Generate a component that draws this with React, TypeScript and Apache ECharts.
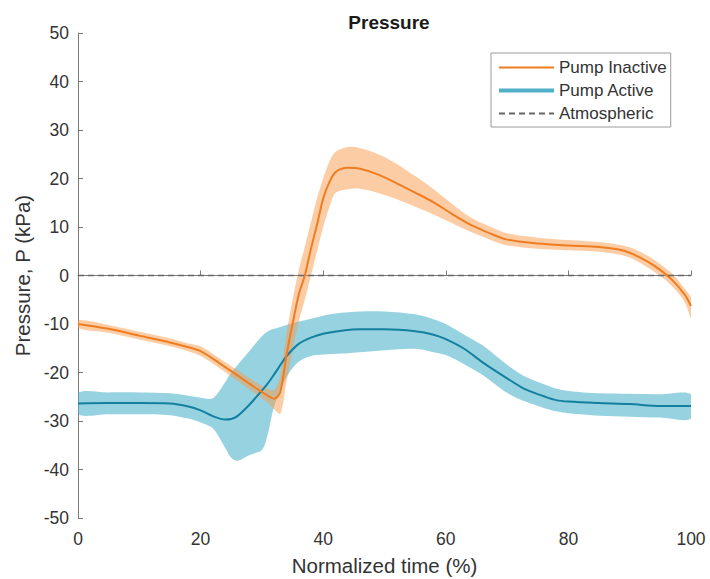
import React, { useEffect, useRef } from "react";
import * as echarts from "echarts";

// Pump Inactive (orange)
const inactiveX = [0, 5, 10, 15, 18, 20, 23, 26, 29, 31, 32, 33, 34, 35, 36, 37, 38, 39, 40, 41, 42, 44, 46, 49, 52, 55, 58, 61, 64, 67, 70, 75, 80, 85, 88, 90, 93, 95, 97, 99, 100];
const inactiveMean = [-10, -11, -12.4, -13.8, -14.8, -15.6, -18, -20.6, -23.2, -24.8, -25.4, -24, -16.5, -10, -4, 0, 5.5, 10.5, 15.9, 19.2, 21.3, 22.2, 22, 20.8, 19, 17.1, 15.1, 12.7, 10.5, 8.8, 7.4, 6.6, 6.2, 5.9, 5.4, 4.7, 2.8, 1.1, -1, -4, -6.3];
const inactiveUpper = [-9.2, -10.2, -11.6, -13, -14, -14.6, -17, -19.5, -22, -23.4, -23.6, -20.5, -12, -5, 1, 6, 11, 16, 20, 23.5, 25.5, 26.5, 26.3, 25, 23, 20.5, 17.8, 14.8, 12, 10.2, 8.7, 7.8, 7.3, 6.9, 6.4, 5.8, 4, 2.3, 0.3, -2.8, -4.6];
const inactiveLower = [-10.8, -11.8, -13.2, -14.6, -15.6, -16.6, -19, -21.7, -24.4, -26.3, -27.6, -28.5, -22, -15.5, -9.5, -5, 0, 5, 10, 14, 17, 17.8, 17.9, 17, 15.7, 14.2, 12.6, 10.8, 9, 7.5, 6.2, 5.5, 5.2, 4.9, 4.4, 3.7, 1.6, -0.1, -2.3, -5.5, -8.8];

// Pump Active (blue)
const activeX = [0, 5, 10, 15, 18, 20, 22, 24, 25, 26, 28, 30, 31, 32, 34, 36, 38, 40, 43, 46, 50, 55, 58, 60, 63, 66, 70, 73, 76, 78, 80, 85, 90, 95, 100];
const activeMean = [-26.4, -26.3, -26.3, -26.4, -27, -27.8, -29, -29.7, -29.6, -29, -26.6, -23.7, -22.2, -20.4, -16.7, -14.1, -12.8, -12, -11.4, -11.1, -11.1, -11.5, -12.2, -13.1, -15.1, -17.9, -21.2, -23.5, -24.9, -25.7, -26, -26.3, -26.5, -26.9, -26.9];
const activeUpper = [-24.2, -24.1, -24.1, -24.3, -24.8, -25.2, -25.3, -22, -20, -18.5, -15.5, -12.5, -11.5, -11, -10.2, -9.5, -8.9, -8.3, -7.7, -7.4, -7.4, -8, -9, -10, -12.2, -14.4, -18.4, -20.9, -22.4, -23.3, -23.8, -24.3, -24.4, -24.5, -24.5];
const activeLower = [-28.6, -28.6, -28.6, -28.8, -29.5, -30.3, -31.5, -35.5, -37.6, -38.2, -37, -36, -32.5, -27, -21, -17.8, -16.6, -16.3, -16.1, -15.8, -15.4, -15.1, -15.8, -16.4, -18.3, -20.5, -24.2, -26, -27.3, -28, -28.4, -28.9, -29.1, -29.3, -29.5];

// Atmospheric reference
const atmosphericX = [0, 100];
const atmosphericY = [0, 0];

const xTicks = { min: 0, max: 100, interval: 20 };
const yTicks = { min: -50, max: 50, interval: 10 };

const ORANGE = "#EE7D22";
const ORANGE_BAND = "rgba(249,155,75,0.5)";
const BLUE = "#13809F";
const BLUE_BAND = "rgba(80,180,203,0.6)";
const TEXT = "#333333";
const AXIS = "#7a7a7a";
const FONT = "Liberation Sans, Arial, sans-serif";

function bandSeries(name: string, xs: number[], lo: number[], hi: number[], color: string) {
  return {
    type: "custom",
    name,
    silent: true,
    data: xs.map((x, i) => [x, lo[i], hi[i]]),
    encode: { x: 0, y: [1, 2] },
    renderItem: (params: any, api: any) => {
      if (params.dataIndex !== 0) return null;
      const pts: number[][] = [];
      for (let i = 0; i < xs.length; i++) pts.push(api.coord([xs[i], hi[i]]));
      for (let i = xs.length - 1; i >= 0; i--) pts.push(api.coord([xs[i], lo[i]]));
      const cs = params.coordSys;
      return {
        type: "polygon",
        shape: {
          points: pts,
          smooth: 0.3,
          smoothConstraint: [
            [cs.x, cs.y],
            [cs.x + cs.width, cs.y + cs.height],
          ],
        },
        style: { fill: color },
      };
    },
  };
}

export default function App() {
  const ref = useRef<HTMLDivElement>(null);
  useEffect(() => {
    if (!ref.current) return;
    const chart = echarts.init(ref.current, null, { renderer: "svg" });
    const option: any = {
      animation: false,
      backgroundColor: "#ffffff",
      textStyle: { fontFamily: FONT },
      title: {
        text: "Pressure",
        left: 384,
        top: 8,
        textAlign: "center",
        textStyle: { fontSize: 19, fontWeight: "bold", color: "#1a1a1a", fontFamily: FONT },
      },
      legend: {
        orient: "vertical",
        left: 491,
        top: 53,
        padding: [6, 4, 5, 6],
        itemGap: 6,
        itemWidth: 55,
        itemHeight: 14,
        backgroundColor: "#ffffff",
        borderColor: "#9a9a9a",
        borderWidth: 1,
        borderRadius: 0,
        itemStyle: { opacity: 0, color: "transparent", borderWidth: 0 },
        textStyle: { fontSize: 17, color: TEXT, fontFamily: FONT },
        data: [
          { name: "Pump Inactive" },
          { name: "Pump Active", lineStyle: { width: 4, color: "#4FB0C8" } },
          { name: "Atmospheric" },
        ],
      },
      grid: { left: 78, right: 19, top: 33, bottom: 61, containLabel: false, outerBoundsMode: "none" },
      xAxis: {
        type: "value",
        min: xTicks.min,
        max: xTicks.max,
        interval: xTicks.interval,
        name: "Normalized time (%)",
        nameLocation: "middle",
        nameGap: 37,
        nameTextStyle: { fontSize: 20.5, color: TEXT },
        axisLine: { show: true, lineStyle: { color: AXIS, width: 1 } },
        axisTick: { show: true, inside: true, length: 5, lineStyle: { color: AXIS } },
        axisLabel: { fontSize: 17.5, color: TEXT, margin: 12 },
        splitLine: { show: false },
      },
      yAxis: {
        type: "value",
        min: yTicks.min,
        max: yTicks.max,
        interval: yTicks.interval,
        name: "Pressure, P (kPa)",
        nameLocation: "middle",
        nameGap: 45,
        nameTextStyle: { fontSize: 20.5, color: TEXT },
        axisLine: { show: true, lineStyle: { color: AXIS, width: 1 } },
        axisTick: { show: true, inside: true, length: 5, lineStyle: { color: AXIS } },
        axisLabel: { fontSize: 17.5, color: TEXT, margin: 9 },
        splitLine: { show: false },
      },
      series: [
        bandSeries("Active band", activeX, activeLower, activeUpper, BLUE_BAND),
        bandSeries("Inactive band", inactiveX, inactiveLower, inactiveUpper, ORANGE_BAND),
        {
          type: "line",
          name: "Pump Active",
          data: activeX.map((x, i) => [x, activeMean[i]]),
          smooth: 0.3,
          symbol: "none",
          showSymbol: false,
          lineStyle: { color: BLUE, width: 2 },
          itemStyle: { color: BLUE },
        },
        {
          type: "line",
          name: "Pump Inactive",
          data: inactiveX.map((x, i) => [x, inactiveMean[i]]),
          smooth: 0.3,
          symbol: "none",
          showSymbol: false,
          lineStyle: { color: ORANGE, width: 2 },
          itemStyle: { color: ORANGE },
        },
        {
          type: "line",
          name: "Atmospheric",
          data: atmosphericX.map((x, i) => [x, atmosphericY[i]]),
          symbol: "none",
          showSymbol: false,
          lineStyle: { color: "#666666", width: 1.7, type: [6, 4] },
          itemStyle: { color: "#666666" },
        },
      ],
    };
    chart.setOption(option);
    return () => chart.dispose();
  }, []);
  return (
    <div
      ref={ref}
      style={{ position: "fixed", left: 0, top: 0, width: 710, height: 579, background: "#fff" }}
    />
  );
}
